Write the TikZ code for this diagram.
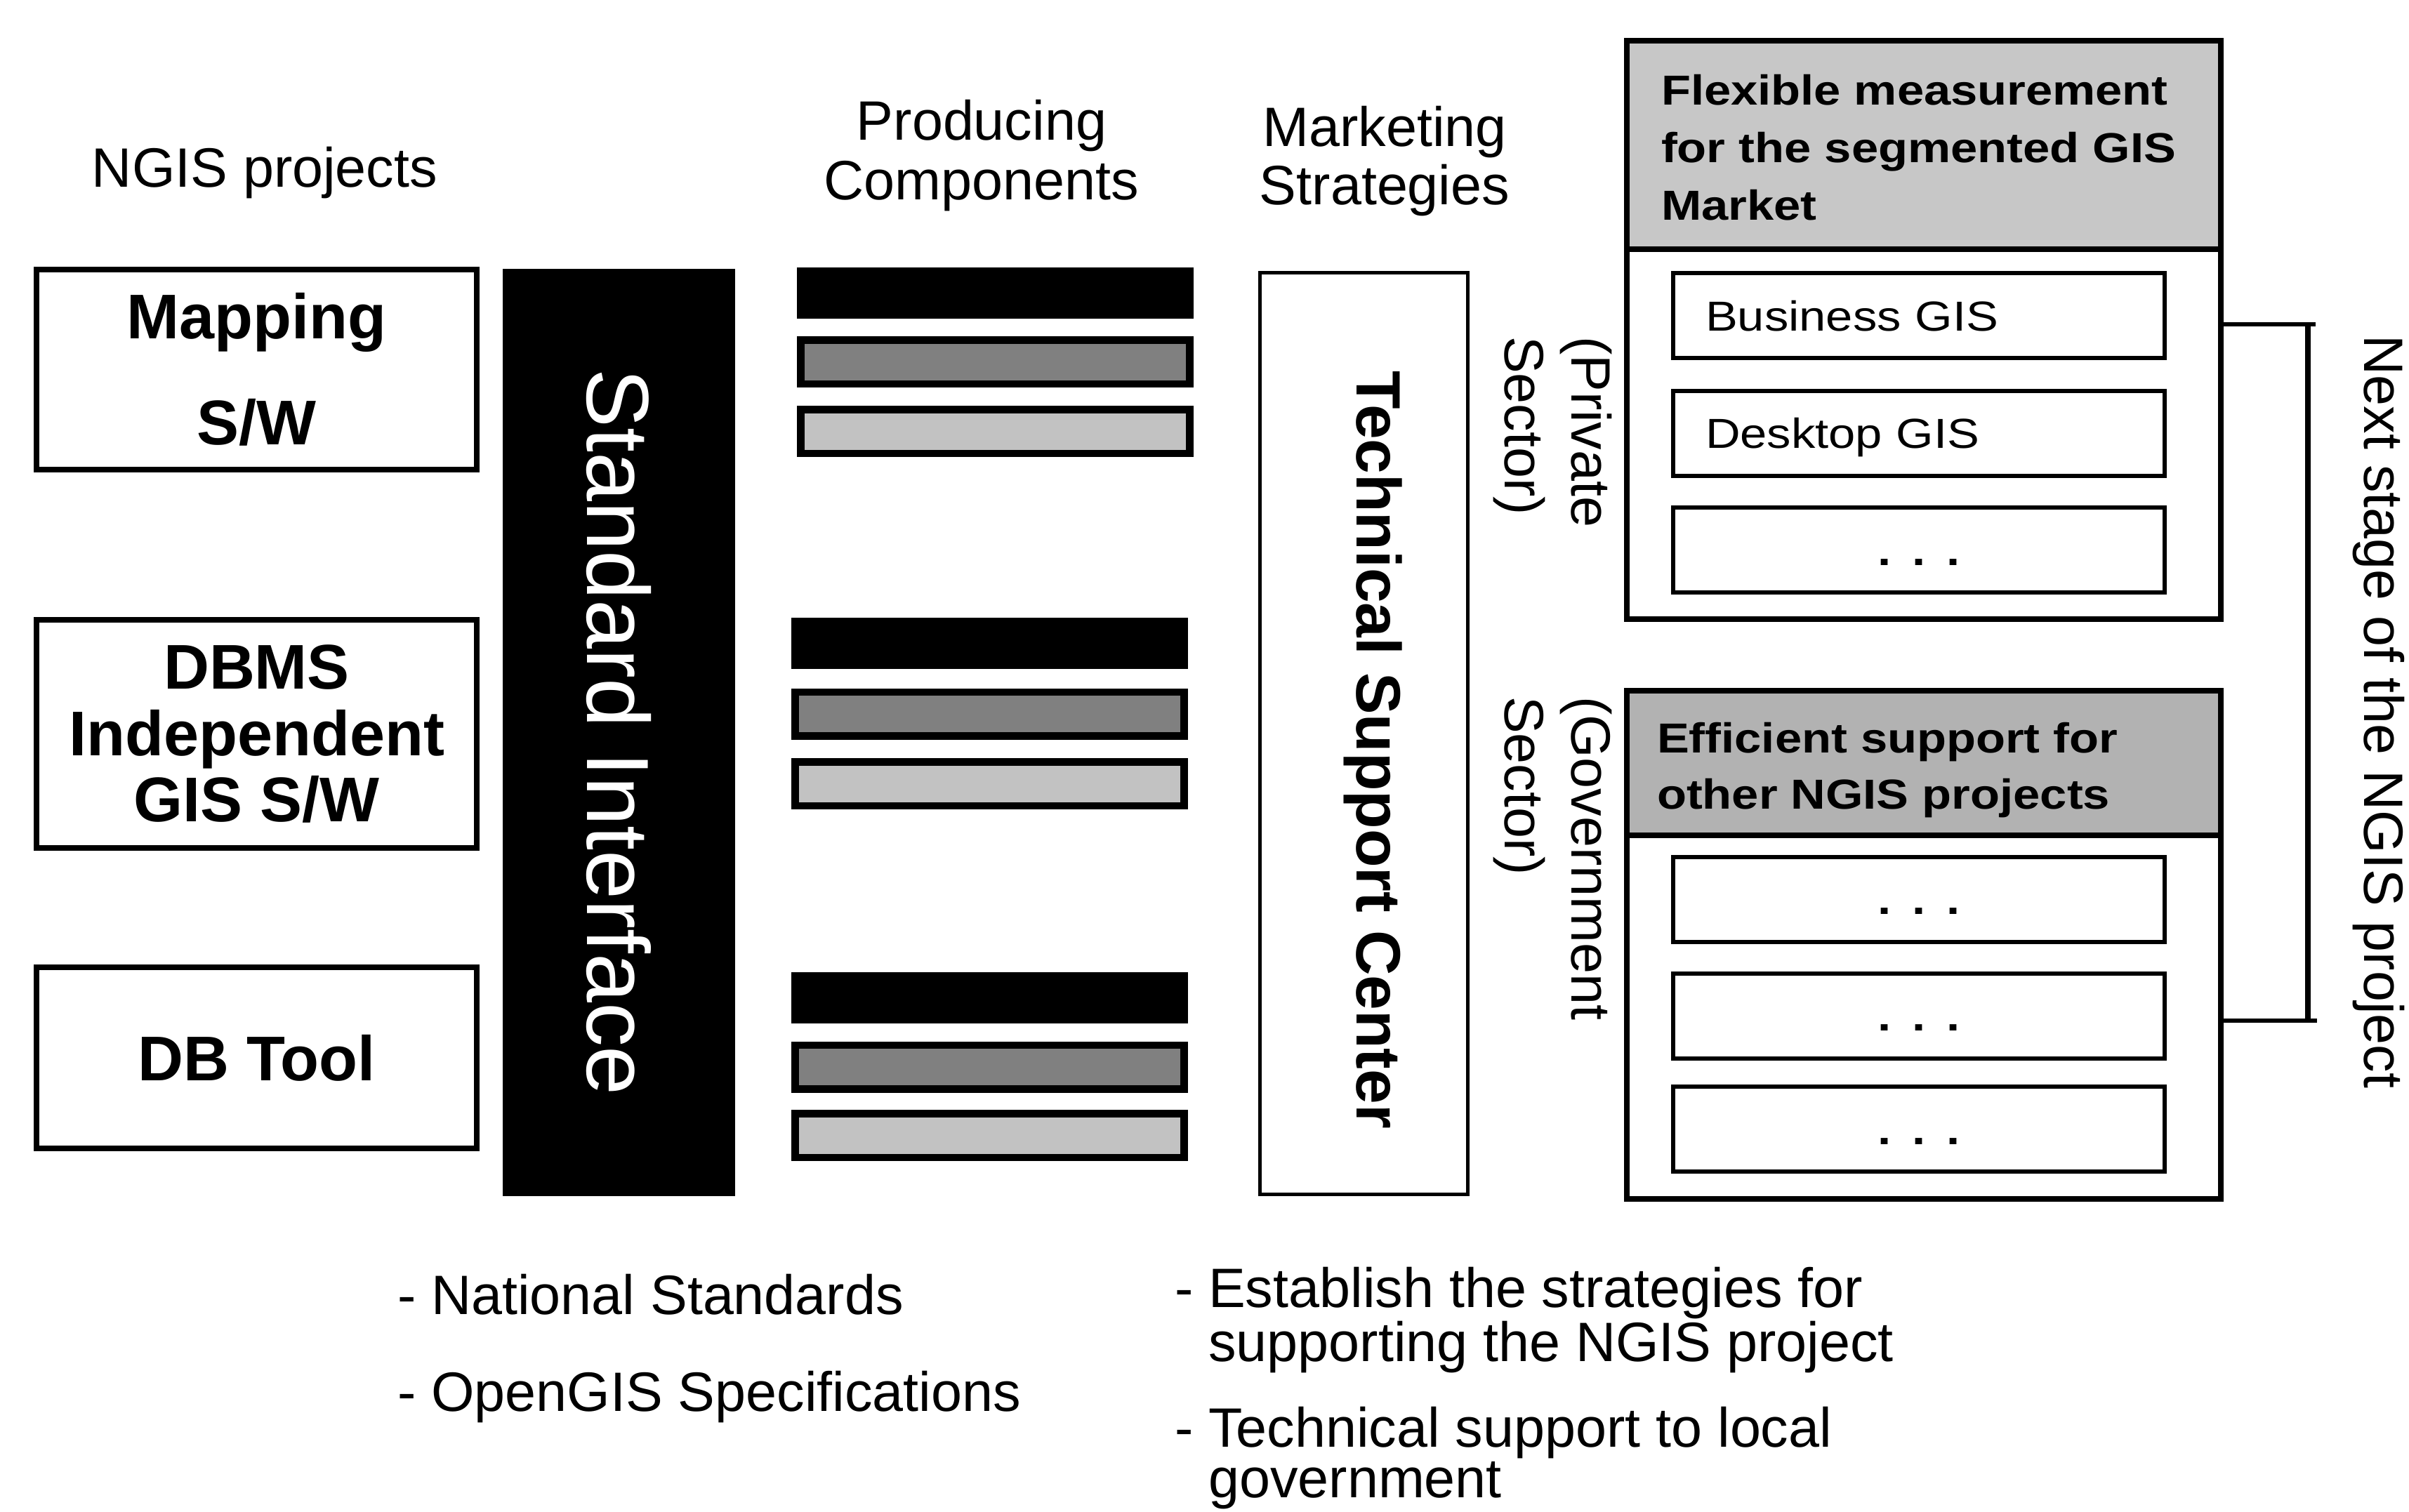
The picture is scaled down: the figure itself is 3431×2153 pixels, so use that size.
\documentclass[tikz,border=0pt]{standalone}
\usepackage{fontspec}
\setmainfont{Liberation Sans}
\newfontfamily\widefont[FakeStretch=1.15]{Liberation Sans}
\definecolor{hdrgrayA}{gray}{0.78}
\definecolor{hdrgrayB}{gray}{0.70}
\definecolor{bardark}{gray}{0.50}
\definecolor{barlight}{gray}{0.76}
\tikzset{
  every node/.style={inner sep=0pt, outer sep=0pt},
  regtext/.style={font=\fontsize{22.5pt}{24pt}\selectfont},
  projbox/.style={draw, line width=2.3pt, minimum width=62.7mm, align=center},
  sibar/.style={fill=black, text=white, minimum width=132.1mm, minimum height=33.1mm, font=\fontsize{35.8pt}{40pt}\selectfont},
  barblack/.style={fill=black, minimum width=56.5mm, minimum height=7.3mm},
  barframed/.style={draw, line width=1.05mm, minimum width=55.4mm, minimum height=6.25mm},
  bardk/.style={barframed, fill=bardark},
  barlt/.style={barframed, fill=barlight},
  tscbox/.style={draw, line width=1.42pt, minimum width=29.6mm, minimum height=131.3mm},
  outerpart/.style={draw, line width=2.3pt, minimum width=84.6mm},
  itembox/.style={draw, line width=1.7pt, minimum width=70mm, minimum height=12.1mm, inner xsep=4.6mm, text width=60.8mm, text height=4.3mm, text depth=0pt, font=\widefont\fontsize{17pt}{20pt}\selectfont},
  itemtext/.style={itembox, align=left},
  itemdots/.style={itembox, align=center, font=\widefont\bfseries\fontsize{17pt}{20pt}\selectfont},
  conn/.style={line width=1.6pt},
}
\begin{document}
\begin{tikzpicture}[x=0.1mm, y=-0.1mm]
\useasboundingbox (0,0) rectangle (3431,2153);
\fill[white] (0,0) rectangle (3431,2153);

% column titles
\node[regtext, anchor=base] (ngistitle) at (377,266) {NGIS projects};
\node[align=center, anchor=north, font=\fontsize{22.5pt}{24.2pt}\selectfont] (prodtitle) at (1398,142) {Producing\\Components};
\node[align=center, anchor=north, font=\fontsize{22.5pt}{23.6pt}\selectfont] (mkttitle) at (1972,151) {Marketing\\Strategies};

% NGIS project boxes
\node[projbox, minimum height=28.5mm, font=\bfseries\fontsize{25.6pt}{43pt}\selectfont] (mapping) at (365.5,526.5) {Mapping\\S/W};
\node[projbox, minimum height=32.5mm, font=\bfseries\fontsize{25.6pt}{27pt}\selectfont] (dbms) at (365.5,1045.5) {DBMS\\Independent\\GIS S/W};
\node[projbox, minimum height=25.8mm, font=\bfseries\fontsize{25.6pt}{30pt}\selectfont] (dbtool) at (365.5,1507) {DB Tool};

% standard interface
\node[sibar, rotate=-90] (si) at (881.5,1043.5) {Standard Interface};

% producing components bars
\node[barblack] (ca1) at (1417.5,417) {};
\node[bardk] (ca2) at (1417.5,515.5) {};
\node[barlt] (ca3) at (1417.5,614.5) {};
\node[barblack] (cb1) at (1409.5,916) {};
\node[bardk] (cb2) at (1409.5,1017) {};
\node[barlt] (cb3) at (1409.5,1116.5) {};
\node[barblack] (cc1) at (1409.5,1421.5) {};
\node[bardk] (cc2) at (1409.5,1520) {};
\node[barlt] (cc3) at (1409.5,1617.5) {};

% technical support center
\node[tscbox] (tsc) at (1942.5,1045) {};
\node[font=\bfseries\fontsize{25.4pt}{28pt}\selectfont, rotate=-90, anchor=base] (tsctext) at (1932,1068) {Technical Support Center};

% sector labels
\node[font=\fontsize{22.5pt}{27pt}\selectfont, rotate=-90, anchor=north west, align=left] (private) at (2296,479) {(Private\\Sector)};
\node[font=\fontsize{22.5pt}{27pt}\selectfont, rotate=-90, anchor=north west, align=left] (govt) at (2296,992) {(Government\\Sector)};

% private sector box
\node[outerpart, fill=hdrgrayA, minimum height=29.7mm] (flexhead) at (2740,206.5) {};
\node[outerpart, minimum height=52.7mm] (flexbody) at (2740,618.5) {};
\node[anchor=north west, align=left, font=\widefont\bfseries\fontsize{17pt}{23.3pt}\selectfont] (flextext) at (2366,106) {Flexible measurement\\for the segmented GIS\\Market};
\node[itemtext] (business) at (2733,449.5) {Business GIS};
\node[itemtext] (desktop) at (2733,617) {Desktop GIS};
\node[itemdots] (pmore) at (2733,783.5) {. . .};

% government sector box
\node[outerpart, fill=hdrgrayB, minimum height=20.6mm] (suphead) at (2740,1087) {};
\node[outerpart, minimum height=51.8mm] (supbody) at (2740,1449) {};
\node[anchor=north west, align=left, font=\widefont\bfseries\fontsize{17pt}{22.8pt}\selectfont] (suptext) at (2360,1029) {Efficient support for\\other NGIS projects};
\node[itemdots] (gmoreA) at (2733,1281) {. . .};
\node[itemdots] (gmoreB) at (2733,1447) {. . .};
\node[itemdots] (gmoreC) at (2733,1608.5) {. . .};

% connector to next stage
\coordinate (jtop) at (3287,462);
\coordinate (jbot) at (3287,1454);
\draw[conn] (flexbody.east |- jtop) -- ([xshift=1.1mm]jtop);
\draw[conn] (supbody.east |- jbot) -- ([xshift=1.3mm]jbot);
\draw[conn, line width=2.2pt] (jtop) -- (jbot);
\node[regtext, rotate=-90, anchor=base] (nextstage) at (3367,1014) {Next stage of the NGIS project};

% bottom notes
\node[regtext, anchor=base west] (natstd) at (566,1872) {- National Standards};
\node[regtext, anchor=base west] (opengis) at (566,2010) {- OpenGIS Specifications};
\node[anchor=north west, align=left, font=\fontsize{22.5pt}{20.5pt}\selectfont] (establish) at (1673,1805) {- Establish the strategies for\\\phantom{-\ }supporting the NGIS project};
\node[anchor=north west, align=left, font=\fontsize{22.5pt}{20.5pt}\selectfont] (techsup) at (1673,2004) {- Technical support to local\\\phantom{-\ }government};
\end{tikzpicture}
\end{document}
